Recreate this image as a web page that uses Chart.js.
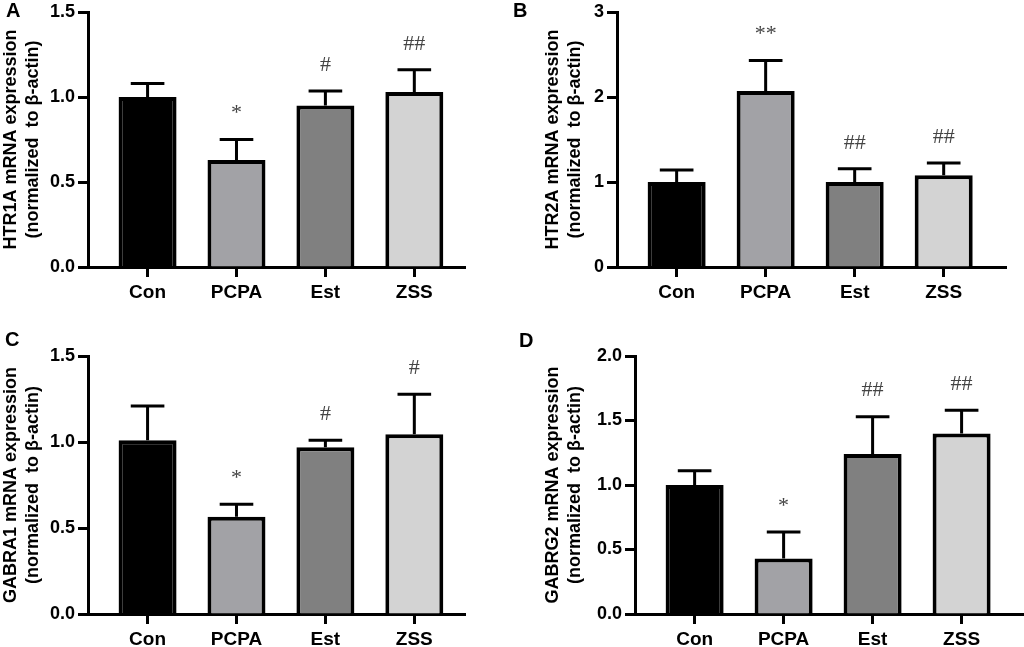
<!DOCTYPE html>
<html>
<head>
<meta charset="utf-8">
<script src="https://cdn.jsdelivr.net/npm/chart.js@4"></script>
<style>
  html, body { margin: 0; padding: 0; background: #fff; }
  #wrap { position: relative; width: 1024px; height: 647px; overflow: hidden; }
  .panel { position: absolute; }
  .letter { position: absolute; font: bold 20px "Liberation Sans", Arial, sans-serif; color: #000; line-height: 20px; }
</style>
</head>
<body>
<div id="wrap">
  <div class="panel" style="left:0;top:0;width:512px;height:320px"><canvas id="chartA"></canvas></div>
  <div class="panel" style="left:512px;top:0;width:512px;height:320px"><canvas id="chartB"></canvas></div>
  <div class="panel" style="left:0;top:320px;width:512px;height:327px"><canvas id="chartC"></canvas></div>
  <div class="panel" style="left:512px;top:320px;width:512px;height:327px"><canvas id="chartD"></canvas></div>
  <div class="letter" style="left:6px;top:0px">A</div>
  <div class="letter" style="left:513px;top:0px">B</div>
  <div class="letter" style="left:5px;top:329px">C</div>
  <div class="letter" style="left:519px;top:330px">D</div>
</div>
<script>
// groups
const categories = ['Con', 'PCPA', 'Est', 'ZSS'];

// HTR1A
const htr1aMean = [1.00, 0.63, 0.95, 1.03];
const htr1aSem = [0.08, 0.12, 0.085, 0.13];
const htr1aMarks = ['', '*', '#', '##'];

// HTR2A
const htr2aMean = [1.00, 2.07, 1.00, 1.08];
const htr2aSem = [0.14, 0.36, 0.155, 0.145];
const htr2aMarks = ['', '**', '##', '##'];

// GABRA1
const gabra1Mean = [1.01, 0.565, 0.97, 1.045];
const gabra1Sem = [0.20, 0.073, 0.04, 0.232];
const gabra1Marks = ['', '*', '#', '#'];

// GABRG2
const gabrg2Mean = [1.00, 0.43, 1.24, 1.40];
const gabrg2Sem = [0.11, 0.205, 0.29, 0.18];
const gabrg2Marks = ['', '*', '##', '##'];

// y tick settings: min, max, step
const ticks15 = [0, 1.5, 0.5];
const ticks3 = [0, 3, 1];
const ticks2 = [0, 2, 0.5];

const barColors = ['#000000', '#a2a2a6', '#808080', '#d3d3d3'];

// draws the upper error bar and the significance mark above it
const errorBarPlugin = {
    id: 'errorBars',
    afterDatasetsDraw(chart) {
        const ctx = chart.ctx;
        const yScale = chart.scales.y;
        const meta = chart.getDatasetMeta(0);
        const ds = chart.data.datasets[0];
        ctx.save();
        meta.data.forEach((bar, i) => {
            const top = ds.data[i].y + ds.sem[i];
            const yTop = yScale.getPixelForValue(top);
            const capHalf = bar.width * 0.29;
            ctx.strokeStyle = '#000';
            ctx.lineWidth = 3;
            ctx.beginPath();
            ctx.moveTo(bar.x, bar.y);
            ctx.lineTo(bar.x, yTop);
            ctx.moveTo(bar.x - capHalf, yTop);
            ctx.lineTo(bar.x + capHalf, yTop);
            ctx.stroke();
            if (ds.marks[i]) {
                ctx.fillStyle = '#444';
                ctx.font = '22px "Liberation Serif", "Times New Roman", serif';
                ctx.textAlign = 'center';
                ctx.textBaseline = 'middle';
                ctx.fillText(ds.marks[i], bar.x, yTop - 26);
            }
        });
        ctx.restore();
    }
};

function makeChart(id, title, mean, sem, marks, yTicks, layout) {
    const yFont = { family: '"Liberation Sans", Arial, sans-serif', size: 18, weight: 'bold', lineHeight: 1 };
    new Chart(document.getElementById(id), {
        type: 'bar',
        data: {
            datasets: [{
                data: mean.map((v, i) => ({ x: i, y: v })),
                sem: sem,
                marks: marks,
                backgroundColor: barColors,
                borderColor: '#000',
                borderWidth: 4,
                categoryPercentage: 1,
                barPercentage: 0.652
            }]
        },
        options: {
            responsive: true,
            maintainAspectRatio: false,
            animation: false,
            layout: { padding: layout.padding },
            plugins: {
                legend: { display: false },
                tooltip: { enabled: false }
            },
            scales: {
                x: {
                    type: 'linear',
                    offset: false,
                    min: -0.67,
                    max: layout.xMax,
                    afterBuildTicks: s => { s.ticks = categories.map((c, i) => ({ value: i })); },
                    afterFit: s => { s.height = 33; },
                    grid: {
                        offset: false,
                        drawOnChartArea: false,
                        drawTicks: true,
                        tickLength: 10,
                        tickWidth: 3,
                        tickColor: '#000'
                    },
                    border: { display: true, color: '#000', width: 3 },
                    ticks: {
                        color: '#000',
                        padding: 4,
                        autoSkip: false,
                        maxRotation: 0,
                        font: { family: '"Liberation Sans", Arial, sans-serif', size: 19, weight: 'bold' },
                        callback: v => categories[v]
                    }
                },
                y: {
                    min: yTicks[0],
                    max: yTicks[1],
                    afterFit: s => { s.width = layout.yWidth; },
                    grid: {
                        drawOnChartArea: false,
                        drawTicks: true,
                        tickLength: 10,
                        tickWidth: 3,
                        tickColor: '#000'
                    },
                    border: { display: true, color: '#000', width: 3 },
                    ticks: {
                        stepSize: yTicks[2],
                        color: '#000',
                        padding: 3,
                        font: yFont,
                        callback: v => yTicks[2] < 1 ? v.toFixed(1) : String(v)
                    },
                    title: {
                        display: true,
                        text: title,
                        color: '#000',
                        padding: { top: 0, bottom: 0 },
                        font: { family: '"Liberation Sans", Arial, sans-serif', size: 18, weight: 'bold', lineHeight: 1.24 }
                    }
                }
            }
        },
        plugins: [errorBarPlugin]
    });
}

makeChart('chartA', ['HTR1A mRNA expression', '(normalized  to \u03b2-actin)'], htr1aMean, htr1aSem, htr1aMarks, ticks15,
    { padding: { left: 0, top: 10, right: 47, bottom: 20 }, yWidth: 88, xMax: 3.57 });
makeChart('chartB', ['HTR2A mRNA expression', '(normalized  to \u03b2-actin)'], htr2aMean, htr2aSem, htr2aMarks, ticks3,
    { padding: { left: 30, top: 9, right: 18, bottom: 20 }, yWidth: 75, xMax: 3.70 });
makeChart('chartC', ['GABRA1 mRNA expression', '(normalized  to \u03b2-actin)'], gabra1Mean, gabra1Sem, gabra1Marks, ticks15,
    { padding: { left: 0, top: 36, right: 47, bottom: 0 }, yWidth: 88, xMax: 3.57 });
makeChart('chartD', ['GABRG2 mRNA expression', '(normalized  to \u03b2-actin)'], gabrg2Mean, gabrg2Sem, gabrg2Marks, ticks2,
    { padding: { left: 30, top: 36, right: 1, bottom: 0 }, yWidth: 93, xMax: 3.69 });
</script>
</body>
</html>
